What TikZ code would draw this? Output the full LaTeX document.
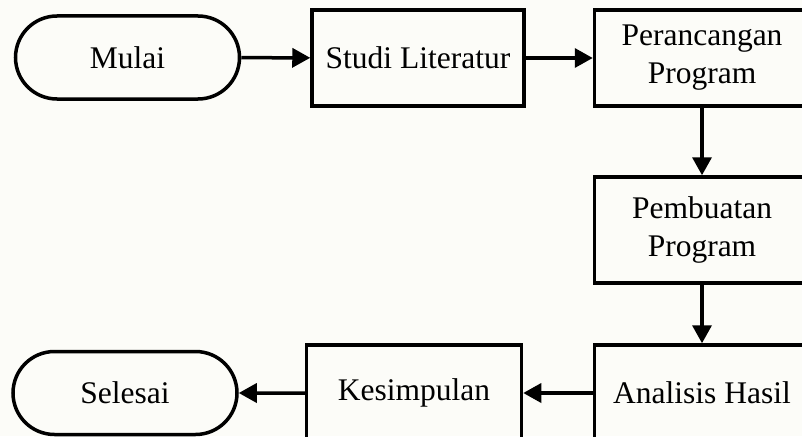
\documentclass[tikz,border=0pt]{standalone}
\usepackage{fontspec}
\setmainfont{Liberation Serif}
\usetikzlibrary{arrows.meta, shapes.misc}

\definecolor{paper}{HTML}{FCFCF8}

\begin{document}
\begin{tikzpicture}[x=1pt, y=-1pt,
    font=\fontsize{31.5}{38}\selectfont,
    every node/.style={line width=3.5pt, inner sep=0pt, align=center},
    prosesbox/.style={draw, rectangle, minimum width=215pt, minimum height=96pt},
    terminal/.style={draw, rounded rectangle, minimum width=224pt, minimum height=83pt},
    alur/.style={line width=3.5pt, -{Triangle[length=18pt, width=19pt]}}]

  % ---------------------------------------------------------------- frame
  % The sheet is 802 x 436 units; the right column and the bottom row
  % run past its edge and are clipped there.
  \useasboundingbox (0,0) rectangle (802,436);
  \fill[paper] (0,0) rectangle (802,436);
  \clip (0,0) rectangle (802,436);

  % ---------------------------------------------------------------- top row
  \node[terminal] (mulai) at (127.5,57.5) {Mulai};
  \node[prosesbox, minimum width=212pt] (studi) at (418,58) {Studi Literatur};
  \node[prosesbox] (rancang) at (702,58) {Perancangan\\Program};

  % ---------------------------------------------------------- right column
  \node[prosesbox, minimum height=106pt] (buat) at (702,230) {Pembuatan\\Program};
  \node[prosesbox] (analisis) at (702,393) {Analisis Hasil};

  % ------------------------------------------------------------ bottom row
  \node[prosesbox] (simpul) at (414,393) {Kesimpulan};
  \node[terminal] (selesai) at (125,393) {Selesai};

  % ----------------------------------------------------------------- flow
  \draw[alur] (mulai) -- (studi);
  \draw[alur] (studi) -- (rancang);
  \draw[alur] (rancang) -- (buat);
  \draw[alur] (buat) -- (analisis);
  \draw[alur] (analisis) -- (simpul);
  \draw[alur] (simpul) -- (selesai);

\end{tikzpicture}
\end{document}
